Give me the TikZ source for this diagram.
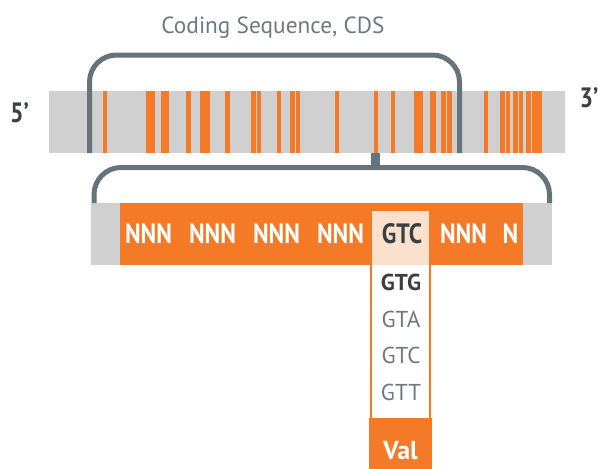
\documentclass[tikz,border=0pt]{standalone}
\usepackage{fontspec}
\setmainfont{PT Sans}
\newfontfamily\condf{PT Sans}[FakeStretch=0.85]
\definecolor{orng}{HTML}{F47A28}
\definecolor{barg}{HTML}{D0D0D0}
\definecolor{brk}{HTML}{65737B}
\definecolor{dtxt}{HTML}{3A3F44}
\definecolor{ltxt}{HTML}{6E787E}
\definecolor{peach}{HTML}{FBE0CE}
\begin{document}
\begin{tikzpicture}[x=1pt,y=-1pt,
  bracket/.style={draw=brk,line width=5pt,rounded corners=27pt},
  codon/.style={font=\condf\bfseries\fontsize{28}{28}\selectfont,text=white,inner sep=0pt,anchor=base},
  alt/.style={font=\fontsize{23}{23}\selectfont,text=ltxt,inner sep=0pt,anchor=base},
  endlab/.style={font=\condf\bfseries\fontsize{28}{28}\selectfont,text=dtxt,inner sep=0pt,anchor=base}]
\useasboundingbox (0,0) rectangle (598,469);
% top bar
\fill[barg] (49,91) rectangle (565,153);
\foreach \a/\b in {103/107,146/155,161/169,186/191,200/210,225/230,251/256,257/261,277/281,290/295,296/300,335/339,374/378,391/395,414/423,430/436,441/446,447/452,484/488,500/505,506/510,513/518,519/523,526/531,532/542}
  \fill[orng] (\a,91) rectangle (\b,153);
\coordinate (tl) at (89.5,153);
\coordinate (tr) at (459.5,153);
\draw[bracket] (tl) -- (89.5,55) -- (459.5,55) -- (tr);
\node[font=\fontsize{23.3}{23.3}\selectfont,text=ltxt,inner sep=0pt,anchor=base] (cds) at (273,33) {Coding Sequence, CDS};
\node[endlab] (five) at (19.5,122) {5’};
\node[endlab] (three) at (589,107) {3’};
% tab
\fill[brk] (371,153) rectangle (380,168);
% lower bar
\fill[barg] (91,203) rectangle (552,265);
\fill[orng] (120,203) rectangle (523,265);
\fill[peach] (371,211) rectangle (430,265);
\coordinate (bl) at (94,203);
\coordinate (br) at (549.5,203);
\draw[bracket] (bl) -- (94,167.5) -- (549.5,167.5) -- (br);
% column
\draw[orng,line width=2pt] (371,211) -- (371,418) (430,211) -- (430,418);
\fill[orng] (369,418) rectangle (432,469);
% codons
\node[codon] (c1) at (148.5,243) {NNN};
\node[codon] (c2) at (212.5,243) {NNN};
\node[codon] (c3) at (276.5,243) {NNN};
\node[codon] (c4) at (340.5,243) {NNN};
\node[codon,text=dtxt] (c5) at (402,243) {GTC};
\node[codon] (c6) at (463.5,243) {NNN};
\node[codon] (c7) at (510.5,243) {N};
\node[alt,font=\bfseries\fontsize{23}{23}\selectfont,text=dtxt] (g1) at (401,290.5) {GTG};
\node[alt] (g2) at (401,327) {GTA};
\node[alt] (g3) at (401,363) {GTC};
\node[alt] (g4) at (401,400) {GTT};
\node[codon,font=\bfseries\fontsize{26}{26}\selectfont] (val) at (400.5,459) {Val};
\end{tikzpicture}
\end{document}
